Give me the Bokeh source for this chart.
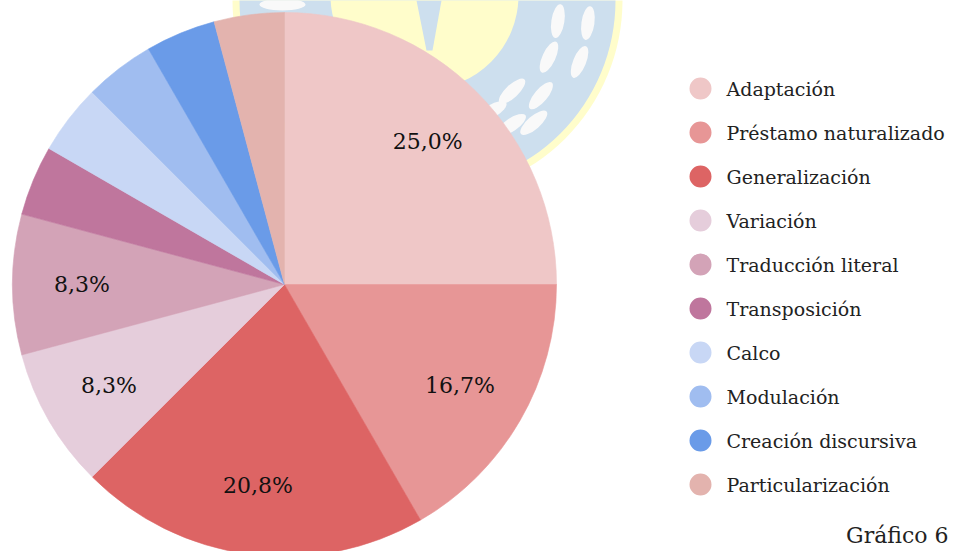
import math
from bokeh.plotting import figure
from bokeh.models import Range1d, ColumnDataSource
from bokeh.core.properties import value
from bokeh.embed import file_html
from bokeh.resources import INLINE

# ---- data ----
categories = ["Adaptación", "Préstamo naturalizado", "Generalización", "Variación",
              "Traducción literal", "Transposición", "Calco", "Modulación",
              "Creación discursiva", "Particularización"]
counts = [6, 4, 5, 2, 2, 1, 1, 1, 1, 1]
colors = ["#EFC7C7", "#E79696", "#DD6464", "#E5CDDB", "#D3A3B7",
          "#BF769D", "#C8D7F5", "#A0BDF0", "#6A9BE8", "#E3B3AE"]
caption = "Gráfico 6"

W, H = 953, 551
def Y(py):  # picture y (px from top) -> data y
    return H - py

p = figure(width=W, height=H, output_backend="svg", toolbar_location=None,
           x_range=Range1d(0, W), y_range=Range1d(0, H), min_border=0)
p.axis.visible = False
p.grid.visible = False
p.outline_line_color = None
p.background_fill_color = "white"
p.border_fill_color = "white"

# ---- faint watermark (decorative) ----
wx, wy = 427, Y(0)
p.circle(x=[wx], y=[wy], radius=195, fill_color="#FFFDCB", line_color=None)
p.circle(x=[wx], y=[wy], radius=188, fill_color="#CDDFEE", line_color=None)
leaf_th = [9, 8, 25, 22, 40, 47, 49, 56, 60, 66]
leaf_r = [132, 162, 134, 164, 148, 124, 162, 150, 128, 160]
lfx, lfy, lfa = [], [], []
for th, r in zip(leaf_th, leaf_r):
    t = math.radians(th)
    lfx.append(wx + r * math.cos(t))
    lfy.append(wy - r * math.sin(t))
    lfa.append(math.pi / 2 - t)
p.ellipse(x=lfx, y=lfy, width=34, height=13, angle=lfa,
          fill_color="#F9F9F9", line_color=None)
p.ellipse(x=[282], y=[Y(4)], width=46, height=12, angle=0.0,
          fill_color="#F9F9F9", line_color=None)
p.circle(x=[424], y=[Y(-5)], radius=94, fill_color="#FFFDCB", line_color=None)
p.patch(x=[416, 441, 432, 426], y=[Y(0), Y(0), Y(50), Y(50)],
        fill_color="#CDDFEE", line_color=None)

# ---- pie ----
cx, cy, R = 284, Y(284), 272
total = sum(counts)
starts, ends, mids = [], [], []
acc = 0
for c in counts:
    a0 = math.pi / 2 - 2 * math.pi * acc / total
    acc += c
    a1 = math.pi / 2 - 2 * math.pi * acc / total
    starts.append(a0); ends.append(a1); mids.append((a0 + a1) / 2)

src = ColumnDataSource(dict(start=starts, end=ends, color=colors))
p.wedge(x=cx, y=cy, radius=R, start_angle="start", end_angle="end",
        direction="clock", fill_color="color", line_color="color",
        line_width=0.6, source=src)

# percentage labels (only slices >= 5%)
lx, ly, lt = [], [], []
for c, m in zip(counts, mids):
    pct = 100 * c / total
    if pct >= 5:
        lx.append(cx + 0.745 * R * math.cos(m))
        ly.append(cy + 0.745 * R * math.sin(m))
        lt.append(f"{pct:.1f}".replace(".", ",") + "%")
p.text(x=lx, y=ly, text=lt, text_align="center", text_baseline="middle",
       text_font=value("DejaVu Serif"), text_font_size="22px", text_color="#111111")

# ---- legend ----
leg_y = [Y(88 + 44 * i) for i in range(len(categories))]
p.scatter(x=[700] * len(categories), y=leg_y, size=22, marker="circle",
          fill_color=colors, line_color=None)
p.text(x=[726] * len(categories), y=leg_y, text=categories, text_align="left",
       text_baseline="middle", text_font=value("DejaVu Serif"),
       text_font_size="19px", text_color="#222222")

# caption
p.text(x=[948], y=[Y(547)], text=[caption], text_align="right",
       text_baseline="bottom", text_font=value("DejaVu Serif"),
       text_font_size="22px", text_color="#222222")

open("out.html", "w").write(file_html(p, INLINE))
